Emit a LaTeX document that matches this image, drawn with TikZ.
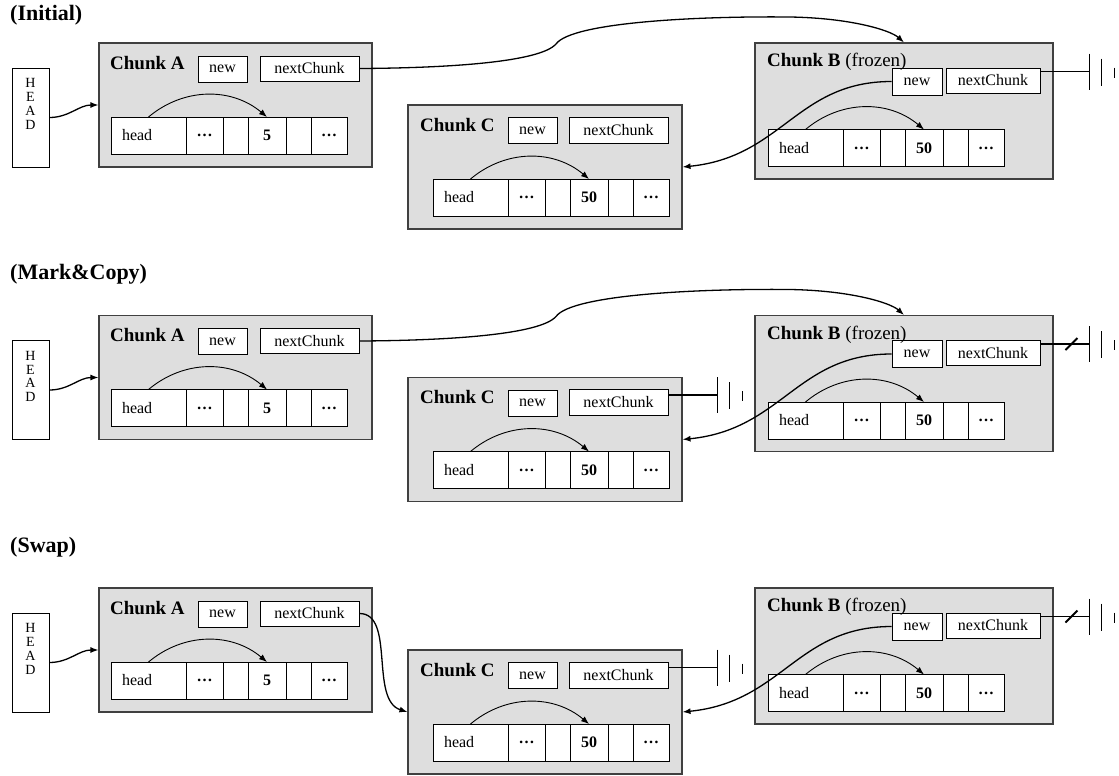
\documentclass[tikz,border=0pt]{standalone}
\usepackage{fontspec}
\setmainfont{Liberation Serif}
\usetikzlibrary{arrows.meta,positioning}

\tikzset{
  chunk/.style={draw=black!75, fill=black!13, line width=1.1pt, inner sep=0pt},
  box/.style={draw, fill=white, line width=0.9pt, inner sep=0pt, font=\fontsize{16}{17}\selectfont},
  cell/.style={box, minimum height=37pt, outer sep=0pt, font=\fontsize{16}{17}\selectfont\bfseries},
  title/.style={anchor=west, inner sep=0pt, font=\fontsize{22}{24}\selectfont\bfseries},
  ctitle/.style={anchor=west, inner sep=0pt, font=\fontsize{19}{21}\selectfont},
  link/.style={-{Latex[length=8pt,width=6pt]}, line width=1.3pt},
  ptr/.style={-{Latex[length=8pt,width=6pt]}, line width=0.9pt},
  wire/.style={line width=1.3pt},
  earth/.pic={
    \draw[line width=1.6pt] (0,-18) -- (0,18);
    \draw[line width=1.6pt] (12,-13) -- (12,14);
    \draw[line width=1.2pt] (25,-4) -- (25,6);
  }
}

\begin{document}
\begin{tikzpicture}[x=1pt, y=-1pt]
\useasboundingbox (0,0) rectangle (1119,776);
% stage titles
\node[title] (init) at (10,15) {(Initial)};
\node[title] (mark) at (10,274) {(Mark\&Copy)};
\node[title] (swap) at (10,547) {(Swap)};

\foreach \p/\dy in {0/0, 1/272.5, 2/545} {
\begin{scope}[shift={(0,\dy)}]
  % HEAD pointer
  \node[draw, line width=0.9pt, minimum width=37pt, minimum height=99pt, inner sep=0pt,
    label={[anchor=north, align=center, inner sep=0pt, yshift=-11pt, font=\fontsize{14}{13.7}\selectfont]north:H\\E\\A\\D}] (hd\p) at (30.5,117.5) {};
  % chunk A
  \node[chunk, minimum width=273pt, minimum height=124pt] (A\p) at (235.5,105) {};
  \node[box, minimum width=49pt, minimum height=26pt] (An\p) at (222.5,69) {new};
  \node[box, minimum width=99pt, minimum height=25pt] (Ax\p) at (309.5,68.5) {nextChunk};
  \node[ctitle] (At\p) at (110,63) {\textbf{Chunk A}};
  % chunk C
  \node[chunk, minimum width=274pt, minimum height=124pt] (C\p) at (545,167) {};
  \node[box, minimum width=49pt, minimum height=26pt] (Cn\p) at (532.5,130.5) {new};
  \node[box, minimum width=99pt, minimum height=26pt] (Cx\p) at (618.5,130) {nextChunk};
  \node[ctitle] (Ct\p) at (420,125) {\textbf{Chunk C}};
  % chunk B
  \node[chunk, minimum width=298pt, minimum height=136pt] (B\p) at (904,111) {};
  \node[box, minimum width=50pt, minimum height=27pt] (Bn\p) at (917,81.5) {new};
  \node[box, minimum width=94pt, minimum height=25pt] (Bx\p) at (993,80.5) {nextChunk};
  \node[ctitle] (Bt\p) at (767,62) {\textbf{Chunk B} (frozen)};
  % slots of each chunk
  \foreach \c/\cx/\cy/\val in {A/111/135.5/5, C/433/197.5/50, B/768/148/50} {
    \node[cell, anchor=west, minimum width=75pt, text width=53pt, inner xsep=11pt, align=left,
      font=\fontsize{16}{17}\selectfont] (\c\p-h) at (\cx,\cy) {head};
    \node[cell, minimum width=37pt, right=0pt of \c\p-h] (\c\p-d) {\dots};
    \node[cell, minimum width=25pt, right=0pt of \c\p-d] (\c\p-e) {};
    \node[cell, minimum width=38pt, right=0pt of \c\p-e] (\c\p-v) {\val};
    \node[cell, minimum width=25pt, right=0pt of \c\p-v] (\c\p-f) {};
    \node[cell, minimum width=36pt, right=0pt of \c\p-f] (\c\p-g) {\dots};
    \draw[ptr] (\c\p-h.north) to[bend left=40] (\c\p-v.north);
  }
  \draw[link] (hd\p.east) to[out=0, in=180] (A\p.west);
  % B.new points to C
  \draw[link] (Bn\p.west) .. controls +(-95,0) and +(100,-10) .. (C\p.east);
\end{scope}
}

% A links to B before the swap
\foreach \p/\dy in {0/0, 1/272.5} {
\begin{scope}[shift={(0,\dy)}]
  \draw[link] (Ax\p.east) .. controls (450,68) and (540,62) .. (556,44)
    .. controls (572,22) and (700,16) .. (790,17)
    .. controls (850,18) and (890,30) .. (B\p.north);
\end{scope}
}
% after the swap A links to C
\draw[link] (Ax2.east) .. controls +(36,0) and +(-38,-12) .. (C2.west);

% grounds
\draw[wire] ([yshift=-4pt]Bx0.north east) -- ++(49,0) coordinate (gb0);
\pic at (gb0) {earth};
\foreach \p in {1,2} {
  \draw[wire] ([yshift=-6pt]Cx\p.north east) -- ++(49,0) coordinate (gc\p);
  \pic at (gc\p) {earth};
  \draw[wire] ([yshift=-4pt]Bx\p.north east) -- ++(31,0) coordinate (cut\p) -- ++(18,0) coordinate (gb\p);
  \draw[line width=1.8pt] (cut\p) ++(-6,6) -- ++(12,-12);
  \pic at (gb\p) {earth};
}
\end{tikzpicture}
\end{document}
